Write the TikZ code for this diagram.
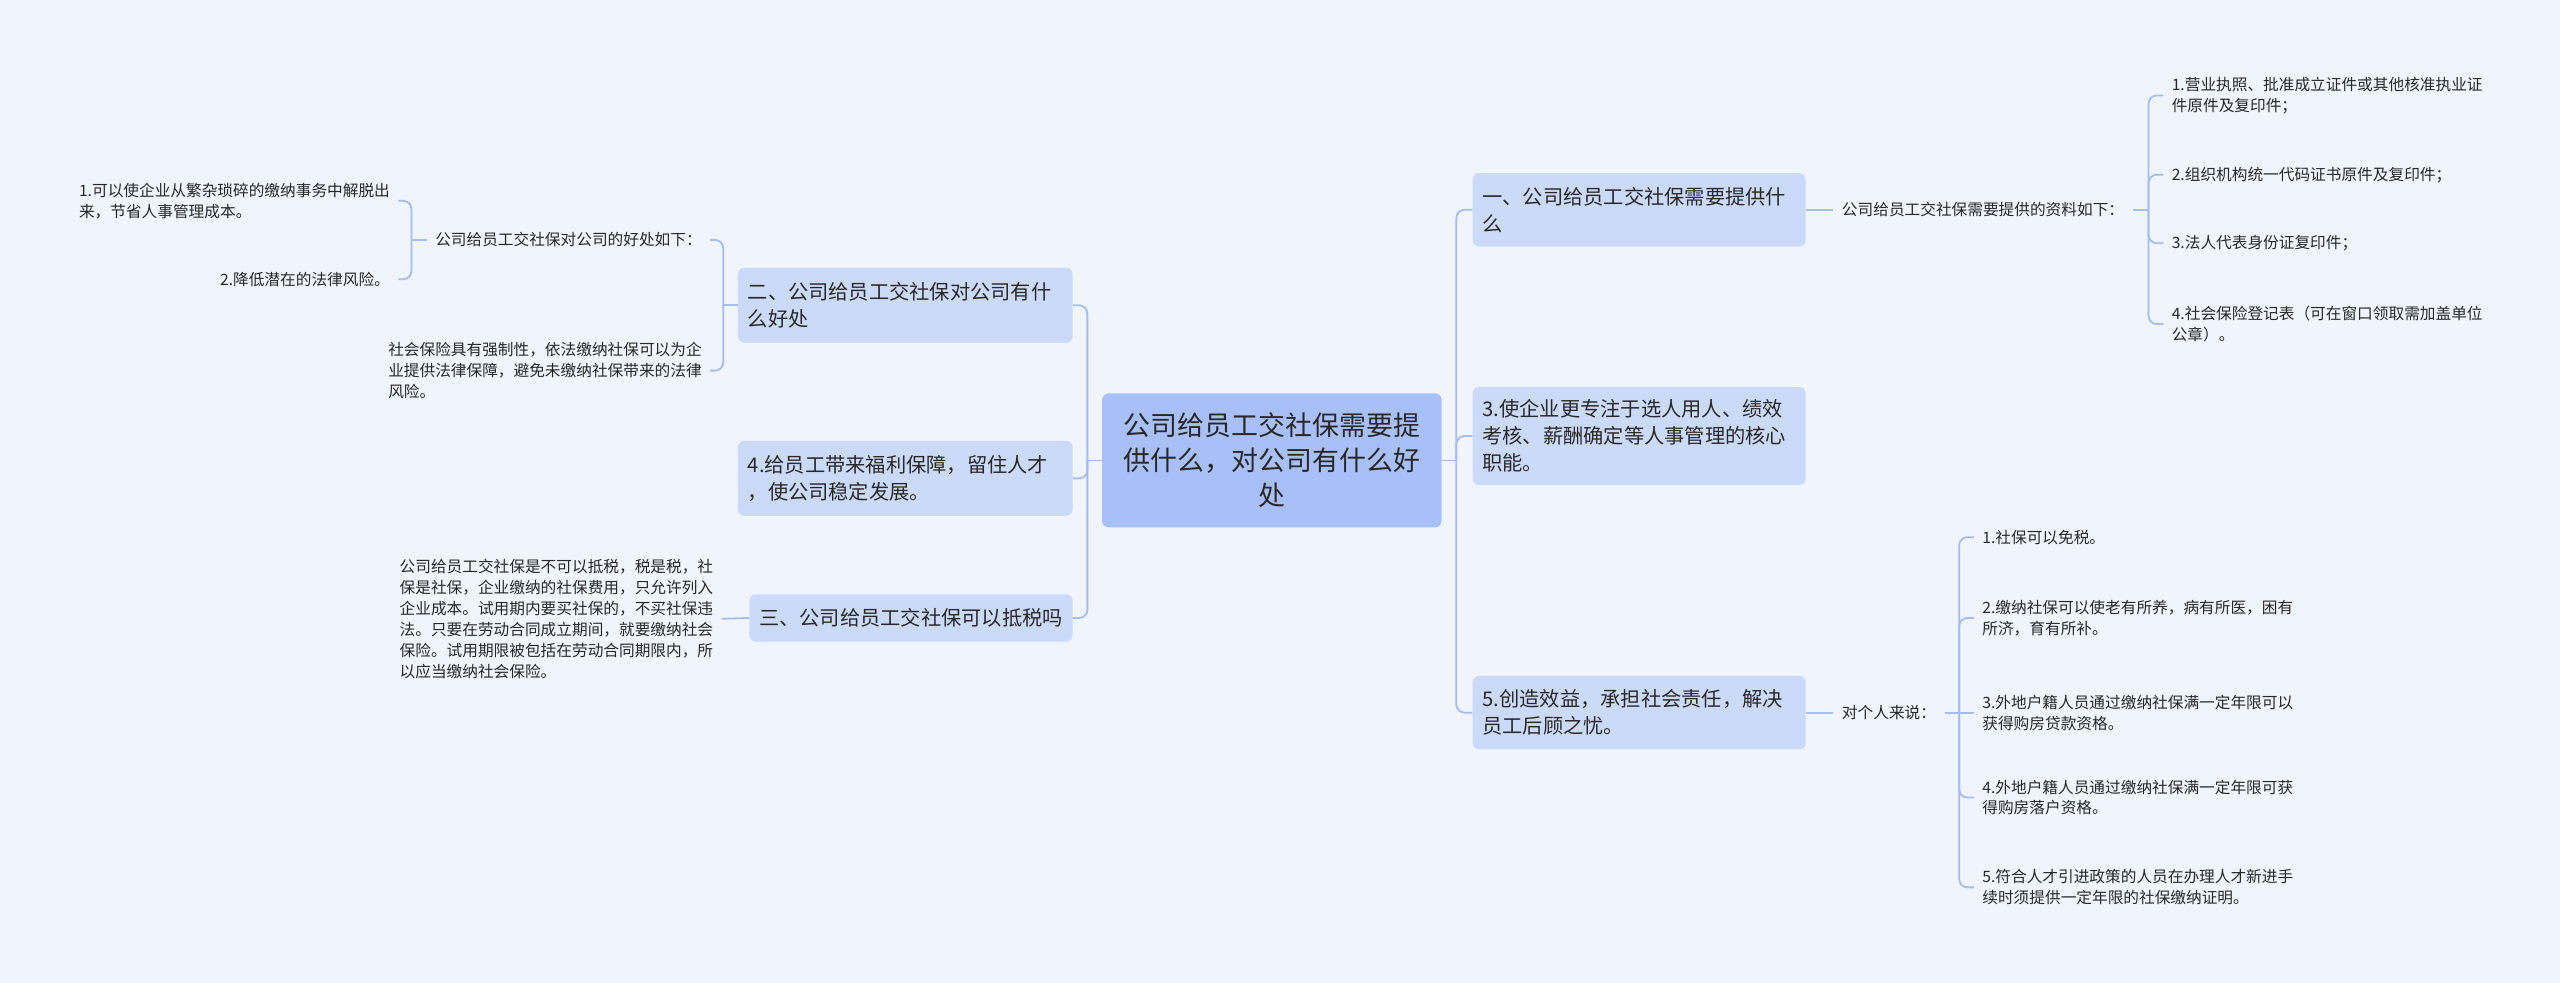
\documentclass[tikz,border=0pt]{standalone}
\usepackage{fontspec}
\setmainfont{Noto Sans CJK SC}
\definecolor{bg}{RGB}{239,244,253}
\definecolor{rootc}{RGB}{168,192,247}
\definecolor{boxc}{RGB}{204,218,250}
\definecolor{linec}{RGB}{165,188,236}
\definecolor{txt}{RGB}{40,40,40}
\begin{document}
\begin{tikzpicture}[x=1pt,y=1pt,
 rootbox/.style={fill=rootc, rounded corners=4pt, text width=196pt, align=center, inner xsep=6pt, inner ysep=0pt, minimum height=82pt, font=\fontsize{16.5}{21.5}\selectfont, text=txt},
 lvbox/.style={fill=boxc, rounded corners=4pt, align=left, inner xsep=6pt, inner ysep=0pt, font=\fontsize{12.4}{16.5}\selectfont, text=txt},
 small/.style={align=left, inner xsep=5pt, inner ysep=1pt, font=\fontsize{9.6}{12.8}\selectfont, text=txt},
 conn/.style={draw=linec, line width=1.1pt, rounded corners=5pt}]
\fill[bg] (0,0) rectangle (1568,-602);
\useasboundingbox (0,0) rectangle (1568,-602);

% nodes
\node[rootbox] (c) at (779,-282) {公司给员工交社保需要提\\供什么，对公司有什么好\\处};
\node[lvbox, text width=193pt, minimum height=46pt] (n2) at (554.5,-187) {二、公司给员工交社保对公司有什\\么好处};
\node[lvbox, text width=193pt, minimum height=46pt] (n4) at (554.5,-293) {4.给员工带来福利保障，留住人才\\，使公司稳定发展。};
\node[lvbox, text width=186pt, minimum height=29pt] (n3) at (558,-378.5) {三、公司给员工交社保可以抵税吗};
\node[lvbox, text width=192pt, minimum height=45pt] (r1) at (1004,-128.5) {一、公司给员工交社保需要提供什\\么};
\node[lvbox, text width=192pt, minimum height=60pt] (r2) at (1004,-267) {3.使企业更专注于选人用人、绩效\\考核、薪酬确定等人事管理的核心\\职能。};
\node[lvbox, text width=192pt, minimum height=45pt] (r3) at (1004,-436.5) {5.创造效益，承担社会责任，解决\\员工后顾之忧。};

\node[small, anchor=east] (l1) at (435,-147) {公司给员工交社保对公司的好处如下：};
\node[small, anchor=east] (l1a) at (244,-123) {1.可以使企业从繁杂琐碎的缴纳事务中解脱出\\来，节省人事管理成本。};
\node[small, anchor=east] (l1b) at (244,-171) {2.降低潜在的法律风险。};
\node[small, anchor=east] (l2) at (435,-227) {社会保险具有强制性，依法缴纳社保可以为企\\业提供法律保障，避免未缴纳社保带来的法律\\风险。};
\node[small, anchor=east] (l3) at (442,-379) {公司给员工交社保是不可以抵税，税是税，社\\保是社保，企业缴纳的社保费用，只允许列入\\企业成本。试用期内要买社保的，不买社保违\\法。只要在劳动合同成立期间，就要缴纳社会\\保险。试用期限被包括在劳动合同期限内，所\\以应当缴纳社会保险。};

\node[small, anchor=west] (ra) at (1123,-128.5) {公司给员工交社保需要提供的资料如下：};
\node[small, anchor=west] (ra1) at (1325,-58.5) {1.营业执照、批准成立证件或其他核准执业证\\件原件及复印件；};
\node[small, anchor=west] (ra2) at (1325,-107) {2.组织机构统一代码证书原件及复印件；};
\node[small, anchor=west] (ra3) at (1325,-149) {3.法人代表身份证复印件；};
\node[small, anchor=west] (ra4) at (1325,-198.5) {4.社会保险登记表（可在窗口领取需加盖单位\\公章）。};

\node[small, anchor=west] (rb) at (1123,-436.5) {对个人来说：};
\node[small, anchor=west] (rb1) at (1209,-329) {1.社保可以免税。};
\node[small, anchor=west] (rb2) at (1209,-378.5) {2.缴纳社保可以使老有所养，病有所医，困有\\所济，育有所补。};
\node[small, anchor=west] (rb3) at (1209,-436.5) {3.外地户籍人员通过缴纳社保满一定年限可以\\获得购房贷款资格。};
\node[small, anchor=west] (rb4) at (1209,-488.5) {4.外地户籍人员通过缴纳社保满一定年限可获\\得购房落户资格。};
\node[small, anchor=west] (rb5) at (1209,-543.5) {5.符合人才引进政策的人员在办理人才新进手\\续时须提供一定年限的社保缴纳证明。};

% bus points
\coordinate (bl) at (666,-282);
\coordinate (br) at (892,-282);
\coordinate (bn2) at (443,-187);
\coordinate (bl1) at (252,-147);
\coordinate (bra) at (1316,-128.5);
\coordinate (brb) at (1200,-436.5);

% connectors
\draw[conn] (c.west) -- (bl);
\draw[conn] (bl) |- (n2.east);
\draw[conn] (bl) |- (n4.east);
\draw[conn] (bl) |- (n3.east);

\draw[conn] (c.east) -- (br);
\draw[conn] (br) |- (r1.west);
\draw[conn] (br) |- (r2.west);
\draw[conn] (br) |- (r3.west);

\draw[conn] (n2.west) -- (bn2);
\draw[conn] (bn2) |- (l1.east);
\draw[conn] (bn2) |- (l2.east);

\draw[conn] (l1.west) -- (bl1);
\draw[conn] (bl1) |- (l1a.east);
\draw[conn] (bl1) |- (l1b.east);

\draw[conn] (n3.west) -- (l3.east);

\draw[conn] (r1.east) -- (ra.west);
\draw[conn] (ra.east) -- (bra);
\draw[conn] (bra) |- (ra1.west);
\draw[conn] (bra) |- (ra2.west);
\draw[conn] (bra) |- (ra3.west);
\draw[conn] (bra) |- (ra4.west);

\draw[conn] (r3.east) -- (rb.west);
\draw[conn] (rb.east) -- (brb);
\draw[conn] (brb) |- (rb1.west);
\draw[conn] (brb) |- (rb2.west);
\draw[conn] (brb) -- (rb3.west);
\draw[conn] (brb) |- (rb4.west);
\draw[conn] (brb) |- (rb5.west);
\end{tikzpicture}
\end{document}
